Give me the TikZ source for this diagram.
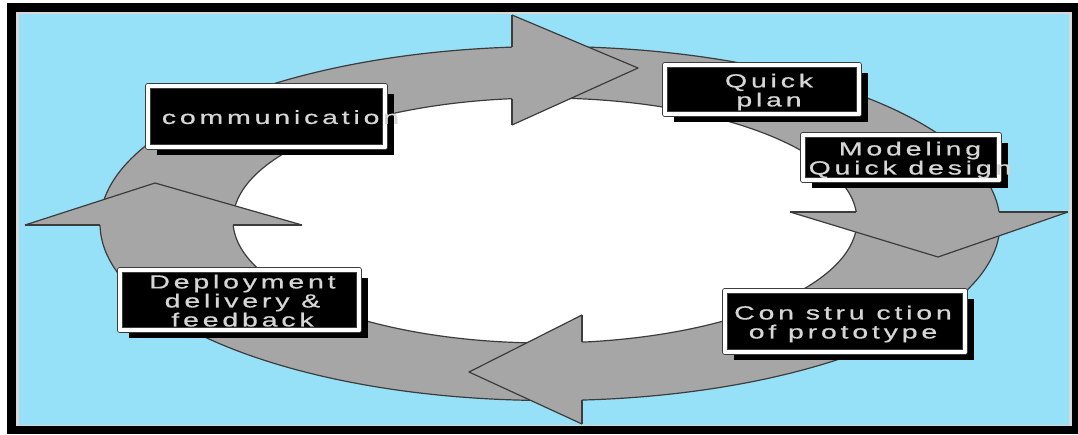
\documentclass[tikz,border=0pt]{standalone}
\usepackage{fontspec}
\newfontfamily\boxfont[FakeStretch=1.5,LetterSpace=20,FakeBold=0.6]{Liberation Sans}
\usetikzlibrary{shadows}
\definecolor{bgblue}{HTML}{96E0F8}
\definecolor{ringgray}{HTML}{A6A6A6}
\definecolor{edgecol}{HTML}{3C3C3C}
\definecolor{txtcol}{HTML}{D6D6D6}
\definecolor{framelight}{HTML}{D8D8D8}
\newcommand{\stx}[2][0pt]{\makebox[0pt]{\hspace*{#1}\raisebox{-7.5pt}[0pt][0pt]{\begin{tabular}{@{}c@{}}#2\end{tabular}}}}
\tikzset{
  stage/.style={fill=black, draw=edgecol, double=white, double distance=4.5pt,
    line width=0.6pt, text=txtcol, inner sep=0pt,
    font=\boxfont\fontsize{19}{17.5}\selectfont,
    drop shadow={shadow xshift=9pt, shadow yshift=-8pt, opacity=1, fill=black, draw=none}},
  ringline/.style={draw=edgecol, line width=1.2pt},
}
\begin{document}
\begin{tikzpicture}[x=1pt, y=-1pt, line join=round]
\useasboundingbox (0,0) rectangle (1078,434);
% frame
\fill[white] (0,0) rectangle (1078,434);
\fill[black] (7,3) rectangle (1078,434);
\fill[framelight] (16,12) rectangle (1072,426);
\fill[bgblue] (19,14) rectangle (1069,425);
% ring
\filldraw[fill=ringgray, ringline] (550,223.5) ellipse [x radius=450pt, y radius=177pt];
\filldraw[fill=white, ringline] (545,220.5) ellipse [x radius=312pt, y radius=122.5pt];
% top arrow head (to the right)
\coordinate (ta1) at (512,15); \coordinate (ta2) at (638,68); \coordinate (ta3) at (512,125);
\coordinate (to1) at (512,47.2); \coordinate (ti1) at (512,98.8);
\fill[ringgray] (ta1) -- (ta2) -- (ta3) -- cycle;
\draw[ringline] (ta1) -- (ta2) -- (ta3);
\draw[ringline] (ta1) -- (to1);
\draw[ringline] (ti1) -- (ta3);
% right arrow head (down)
\coordinate (ra1) at (790,212); \coordinate (ra2) at (938,257); \coordinate (ra3) at (1068,212);
\coordinate (ri2) at (856,212); \coordinate (ro2) at (999,212);
\fill[ringgray] (ra1) -- (ra2) -- (ra3) -- cycle;
\draw[ringline] (ra1) -- (ra2) -- (ra3);
\draw[ringline] (ra1) -- (ri2);
\draw[ringline] (ro2) -- (ra3);
% bottom arrow head (to the left)
\coordinate (ba1) at (582,315); \coordinate (ba2) at (469,372); \coordinate (ba3) at (582,424);
\coordinate (bi3) at (582,342.1); \coordinate (bo3) at (582,400);
\fill[ringgray] (ba1) -- (ba2) -- (ba3) -- cycle;
\draw[ringline] (ba1) -- (ba2) -- (ba3);
\draw[ringline] (ba1) -- (bi3);
\draw[ringline] (bo3) -- (ba3);
% left arrow head (up)
\coordinate (la1) at (25,225); \coordinate (la2) at (155,183); \coordinate (la3) at (302,225);
\coordinate (lo4) at (100,225); \coordinate (li4) at (233,225);
\fill[ringgray] (la1) -- (la2) -- (la3) -- cycle;
\draw[ringline] (la1) -- (la2) -- (la3);
\draw[ringline] (la1) -- (lo4);
\draw[ringline] (li4) -- (la3);
% boxes
\node[stage, minimum width=237.3pt, minimum height=61.3pt] (comm) at (266.5,116.5) {\stx[28pt]{communication}};
\node[stage, minimum width=194.3pt, minimum height=49.3pt] (plan) at (762,89.5) {\stx[14pt]{Quick\\plan}};
\node[stage, minimum width=196.3pt, minimum height=45.3pt] (model) at (901,157.5) {\stx[18pt]{Modeling\\Quick design}};
\node[stage, minimum width=240.3pt, minimum height=61.3pt] (constr) at (845,321.5) {\stx[-4pt]{Con stru ction\\of prototype}};
\node[stage, minimum width=239.3pt, minimum height=60.3pt] (deploy) at (239.5,300) {\stx[6pt]{Deployment\\delivery \&\\feedback}};
\end{tikzpicture}
\end{document}
